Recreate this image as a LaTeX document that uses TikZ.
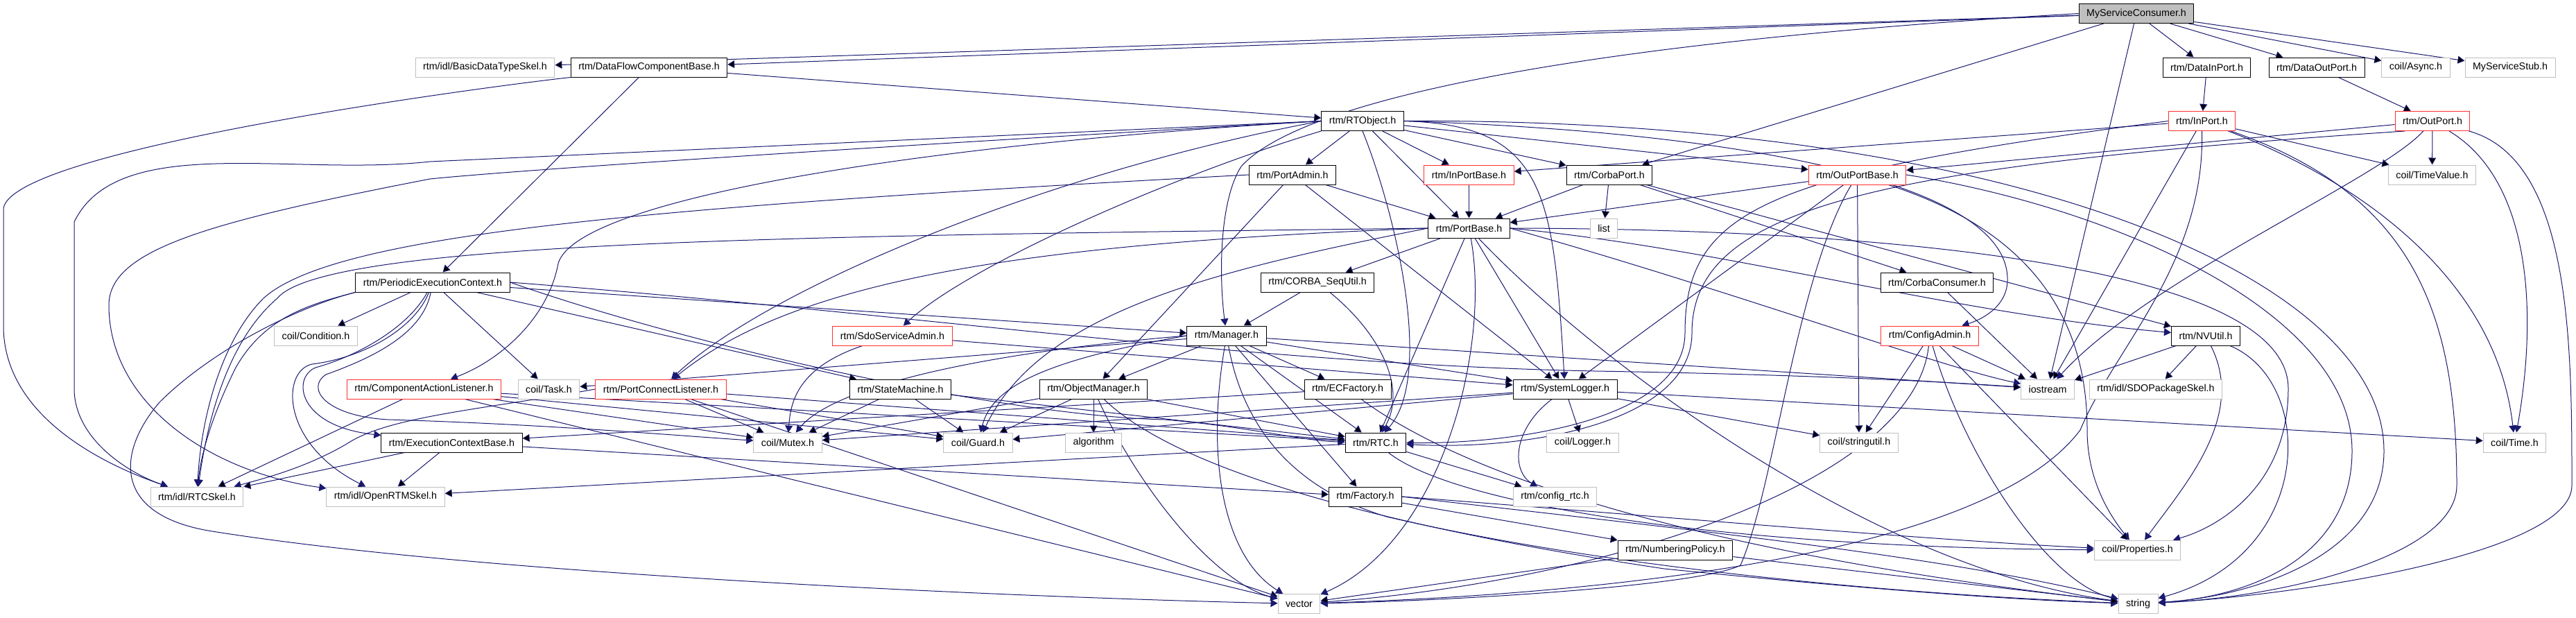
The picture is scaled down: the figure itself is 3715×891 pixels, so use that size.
\documentclass[tikz,border=0pt]{standalone}
\usepackage{fontspec}
\setmainfont{Liberation Sans}
\usetikzlibrary{arrows.meta, positioning}

\definecolor{depblue}{HTML}{191970}
\definecolor{extgray}{HTML}{BFBFBF}
\definecolor{truncred}{HTML}{FF3030}
\definecolor{rootgray}{HTML}{BFBFBF}
\newcommand{\hdrfont}{\fontsize{14.3}{17}\selectfont}

\pgfdeclarelayer{edges}
\pgfsetlayers{edges,main}

\tikzset{
  hdr/.style={draw=black, fill=white, font=\hdrfont, inner xsep=11pt, inner ysep=0pt,
    minimum height=28pt, line width=1pt},
  ext/.style={hdr, draw=extgray},
  trunc/.style={hdr, draw=truncred},
  root/.style={hdr, fill=rootgray},
  dep/.style={->, draw=depblue, line width=1pt}
}

\begin{document}
\begin{tikzpicture}[x=1pt, y=-1pt, >={Triangle[length=10pt,width=11pt]}]
\useasboundingbox (0,0) rectangle (3715,891);

% row 0
\node[root]  (consumer)    at (3081,19.5)   {MyServiceConsumer.h};
% row 1
\node[ext]   (basictype)   at (699.5,97)    {rtm/idl/BasicDataTypeSkel.h};
\node[hdr]   (dfcb)        at (936,97)      {rtm/DataFlowComponentBase.h};
\node[hdr]   (datain)      at (3182.5,97)   {rtm/DataInPort.h};
\node[hdr]   (dataout)     at (3341,97)     {rtm/DataOutPort.h};
\node[ext]   (async)       at (3484,97)     {coil/Async.h};
\node[ext]   (stub)        at (3620,97)     {MyServiceStub.h};
% row 2
\node[hdr]   (rtobject)    at (1965,174.5)  {rtm/RTObject.h};
\node[trunc] (inport)      at (3175.5,174.5){rtm/InPort.h};
\node[trunc] (outport)     at (3508,174.5)  {rtm/OutPort.h};
% row 3
\node[hdr]   (portadmin)   at (1864,252)    {rtm/PortAdmin.h};
\node[trunc] (inportbase)  at (2118.5,252)  {rtm/InPortBase.h};
\node[hdr]   (corbaport)   at (2321,252)    {rtm/CorbaPort.h};
\node[trunc] (outportbase) at (2678.5,252)  {rtm/OutPortBase.h};
\node[ext]   (timevalue)   at (3507.5,252)  {coil/TimeValue.h};
% row 4
\node[hdr]   (portbase)    at (2118.5,329)  {rtm/PortBase.h};
\node[ext]   (list)        at (2313,329)    {list};
% row 5
\node[hdr]   (periodic)    at (624,407)     {rtm/PeriodicExecutionContext.h};
\node[hdr]   (sequtil)     at (1900,407)    {rtm/CORBA\_SeqUtil.h};
\node[hdr]   (corbacons)   at (2793.5,407)  {rtm/CorbaConsumer.h};
% row 6
\node[ext]   (condition)   at (455.5,484)   {coil/Condition.h};
\node[trunc] (sdoadmin)    at (1287,484)    {rtm/SdoServiceAdmin.h};
\node[hdr]   (manager)     at (1769,484)    {rtm/Manager.h};
\node[trunc] (configadmin) at (2783,484)    {rtm/ConfigAdmin.h};
\node[hdr]   (nvutil)      at (3181,484)    {rtm/NVUtil.h};
% row 7
\node[trunc] (actionlst)   at (611.5,561)   {rtm/ComponentActionListener.h};
\node[ext]   (task)        at (791.5,561)   {coil/Task.h};
\node[trunc] (connectlst)  at (953,561)     {rtm/PortConnectListener.h};
\node[hdr]   (statemach)   at (1298.5,561)  {rtm/StateMachine.h};
\node[hdr]   (objmgr)      at (1577,561)    {rtm/ObjectManager.h};
\node[hdr]   (ecfactory)   at (1943.5,561)  {rtm/ECFactory.h};
\node[hdr]   (syslogger)   at (2257,561)    {rtm/SystemLogger.h};
\node[ext]   (iostream)    at (2953,561)    {iostream};
\node[ext]   (sdopkg)      at (3109,561)    {rtm/idl/SDOPackageSkel.h};
% row 8
\node[hdr]   (ecbase)      at (651.5,638)   {rtm/ExecutionContextBase.h};
\node[ext]   (mutex)       at (1136,638)    {coil/Mutex.h};
\node[ext]   (guard)       at (1410.5,638)  {coil/Guard.h};
\node[ext]   (algorithm)   at (1577,638)    {algorithm};
\node[hdr]   (rtc)         at (1984,638)    {rtm/RTC.h};
\node[ext]   (logger)      at (2282.5,638)  {coil/Logger.h};
\node[ext]   (stringutil)  at (2681,638)    {coil/stringutil.h};
\node[ext]   (time)        at (3626.5,638)  {coil/Time.h};
% row 9
\node[ext]   (rtcskel)     at (284,716)     {rtm/idl/RTCSkel.h};
\node[ext]   (openrtm)     at (556,716)     {rtm/idl/OpenRTMSkel.h};
\node[hdr]   (factory)     at (1969,716)    {rtm/Factory.h};
\node[ext]   (configrtc)   at (2242.5,716)  {rtm/config\_rtc.h};
% row 10
\node[hdr]   (numbering)   at (2416,793)    {rtm/NumberingPolicy.h};
\node[ext]   (properties)  at (3082.5,793)  {coil/Properties.h};
% row 11
\node[ext]   (vector)      at (1873.5,870.5){vector};
\node[ext]   (string)      at (3083.5,870.5){string};

\begin{pgfonlayer}{edges}
% MyServiceConsumer.h
\path[dep] (consumer) edge (basictype) edge (dfcb) edge (datain) edge (dataout)
  edge (async) edge (stub) edge (corbaport) edge (iostream);
\draw[dep] (consumer.west) .. controls (2300,60) and (1880,140) .. (1790,240)
  .. controls (1758,290) and (1758,400) .. (manager);

% DataFlowComponentBase.h
\path[dep] (dfcb) edge (rtobject) edge (periodic);
\draw[dep] (dfcb.south west) .. controls (700,125) and (20,215) .. (5,300) -- (5,470)
  .. controls (5,600) and (150,670) .. (rtcskel);
\path[dep] (datain) edge (inport) (dataout) edge (outport);

% RTObject.h
\path[dep] (rtobject) edge (portadmin) edge (inportbase) edge (portbase)
  edge (corbaport) edge (outportbase);
\draw[dep] (rtobject.south) .. controls (2010,300) and (2070,540) .. (rtc);
\draw[dep] (rtobject.west) -- (620,233) .. controls (420,255) and (170,190) .. (107,320)
  -- (107,560) .. controls (107,630) and (180,680) .. (rtcskel);
\draw[dep] (rtobject.west) .. controls (1200,215) and (750,245) .. (620,258)
  .. controls (300,320) and (157,360) .. (157,440) .. controls (157,580) and (300,680) .. (openrtm);
\draw[dep] (rtobject.west) .. controls (1300,210) and (830,290) .. (805,380)
  .. controls (790,460) and (720,520) .. (actionlst);
\draw[dep] (rtobject.south west) .. controls (1700,250) and (1400,380) .. (sdoadmin);
\draw[dep] (rtobject.west) .. controls (1500,250) and (1100,420) .. (connectlst);
\draw[dep] (rtobject.east) .. controls (2500,190) and (2890,260) .. (2895,400)
  .. controls (2897,440) and (2860,460) .. (configadmin);
\draw[dep] (rtobject.east) .. controls (2230,180) and (2240,280) .. (syslogger);
\draw[dep] (rtobject.east) .. controls (2900,170) and (3438,400) .. (3438,650)
  .. controls (3438,800) and (3250,860) .. (string);

% InPort.h
\path[dep] (inport) edge (inportbase) edge (iostream) edge (timevalue);
\draw[dep] (inport.west) .. controls (2550,250) and (2430,300) .. (2430,480)
  .. controls (2430,600) and (2200,640) .. (rtc);
\draw[dep] (inport.south) .. controls (3180,380) and (3050,500) .. (3000,620)
  .. controls (2850,820) and (2200,860) .. (vector);
\draw[dep] (inport) .. controls (3400,260) and (3600,400) .. (time);
\draw[dep] (inport) .. controls (3480,280) and (3543,450) .. (3543,700)
  .. controls (3543,800) and (3300,860) .. (string);

% OutPort.h
\path[dep] (outport) edge (outportbase) edge (timevalue);
\draw[dep] (outport.200) .. controls (2700,240) and (2440,300) .. (2440,480)
  .. controls (2440,610) and (2200,650) .. (rtc);
\draw[dep] (outport) .. controls (3430,260) and (3100,400) .. (iostream);
\draw[dep] (outport) .. controls (3650,260) and (3660,450) .. (time);
\draw[dep] (outport) .. controls (3709,230) and (3709,500) .. (3709,700)
  .. controls (3709,800) and (3300,860) .. (string);

% PortAdmin.h, InPortBase.h, CorbaPort.h
\path[dep] (portadmin) edge (portbase) edge (objmgr) edge (syslogger);
\draw[dep] (portadmin.west) .. controls (900,300) and (480,340) .. (380,430)
  .. controls (320,490) and (290,600) .. (rtcskel);
\path[dep] (inportbase) edge (portbase);
\path[dep] (corbaport) edge (portbase) edge (list) edge (corbacons) edge (nvutil);

% OutPortBase.h
\path[dep] (outportbase) edge (portbase) edge (syslogger) edge (stringutil);
\draw[dep] (outportbase) .. controls (2590,400) and (2560,700) .. (2510,815)
  .. controls (2450,845) and (2100,866) .. (vector);
\draw[dep] (outportbase) .. controls (2920,330) and (3010,450) .. (3010,620)
  .. controls (3010,690) and (3040,740) .. (properties);
\draw[dep] (outportbase.east) .. controls (3050,300) and (3392,450) .. (3392,650)
  .. controls (3392,800) and (3250,860) .. (string);

% PortBase.h
\path[dep] (portbase) edge (sequtil) edge (rtc) edge (syslogger);
\draw[dep] (portbase.west) .. controls (1200,340) and (470,345) .. (400,430)
  .. controls (330,490) and (300,600) .. (rtcskel);
\draw[dep] (portbase.west) .. controls (1500,350) and (1150,400) .. (connectlst);
\draw[dep] (portbase.west) .. controls (1750,390) and (1500,450) .. (guard);
\draw[dep] (portbase) .. controls (2150,500) and (2080,780) .. (vector);
\draw[dep] (portbase.east) .. controls (2500,360) and (2800,450) .. (nvutil);
\draw[dep] (portbase.east) .. controls (2500,420) and (2800,530) .. (iostream);
\draw[dep] (portbase.east) .. controls (2700,330) and (3300,380) .. (3300,560)
  .. controls (3300,700) and (3200,760) .. (properties);
\draw[dep] (portbase) .. controls (2300,520) and (2700,820) .. (string);

% PeriodicExecutionContext.h
\path[dep] (periodic) edge (condition) edge (task) edge (statemach) edge (manager);
\draw[dep] (periodic.south west) .. controls (440,440) and (380,460) .. (340,530)
  .. controls (310,590) and (290,650) .. (rtcskel);
\draw[dep] (periodic) .. controls (600,470) and (530,515) .. (450,525)
  .. controls (405,535) and (405,640) .. (openrtm);
\draw[dep] (periodic) .. controls (590,470) and (520,512) .. (455,530)
  .. controls (420,545) and (430,615) .. (ecbase);
\draw[dep] (periodic) .. controls (610,480) and (540,515) .. (470,540)
  .. controls (440,560) and (470,600) .. (560,605) .. controls (800,612) and (1000,630) .. (mutex);
\draw[dep] (periodic.south west) .. controls (420,445) and (300,510) .. (230,580)
  .. controls (170,650) and (160,740) .. (300,765) .. controls (700,830) and (1500,862) .. (vector);
\draw[dep] (periodic.east) .. controls (1300,450) and (1800,525) .. (2300,535)
  .. controls (2600,540) and (2800,550) .. (iostream);
\draw[dep] (periodic.east) .. controls (1000,500) and (1450,600) .. (1680,605)
  .. controls (1800,615) and (1880,636) .. (rtc);

% CORBA_SeqUtil.h, CorbaConsumer.h, SdoServiceAdmin.h
\path[dep] (sequtil) edge (manager);
\draw[dep] (sequtil) .. controls (1990,480) and (2030,560) .. (rtc);
\path[dep] (corbacons) edge (iostream);
\path[dep] (sdoadmin) edge (syslogger);
\draw[dep] (sdoadmin) .. controls (1150,530) and (1140,580) .. (mutex);

% Manager.h
\path[dep] (manager) edge (task) edge (objmgr) edge (ecfactory) edge (syslogger)
  edge (rtc) edge (factory) edge (iostream);
\draw[dep] (manager.west) .. controls (1400,510) and (1200,560) .. (mutex);
\draw[dep] (manager.west) .. controls (1500,520) and (1430,560) .. (guard);
\draw[dep] (manager) .. controls (1740,650) and (1760,800) .. (vector);
\draw[dep] (manager) .. controls (1790,600) and (1850,700) .. (2000,745)
  .. controls (2300,815) and (2700,855) .. (string);

% ConfigAdmin.h, NVUtil.h
\path[dep] (configadmin) edge (stringutil) edge (iostream) edge (properties);
\draw[dep] (configadmin) .. controls (2760,700) and (2300,840) .. (vector);
\draw[dep] (configadmin) .. controls (2830,650) and (2950,840) .. (string);
\path[dep] (nvutil) edge (iostream) edge (sdopkg);
\draw[dep] (nvutil) .. controls (3240,600) and (3150,700) .. (properties);
\draw[dep] (nvutil) .. controls (3340,550) and (3340,800) .. (string);

% listeners, StateMachine.h, ObjectManager.h
\path[dep] (actionlst) edge (rtcskel) edge (vector) edge (mutex) edge (guard) edge (rtc);
\path[dep] (connectlst) edge (vector) edge (mutex) edge (guard) edge (rtc);
\draw[dep] (connectlst.west) .. controls (700,590) and (560,600) .. (500,640)
  .. controls (440,675) and (380,690) .. (rtcskel);
\path[dep] (statemach) edge (mutex) edge (guard) edge (rtc);
\path[dep] (objmgr) edge (mutex) edge (guard) edge (algorithm) edge (rtc);
\draw[dep] (objmgr) .. controls (1640,700) and (1750,840) .. (vector);
\draw[dep] (objmgr) .. controls (1700,680) and (2000,760) .. (2400,820)
  .. controls (2700,850) and (2900,865) .. (string);

% ECFactory.h, SystemLogger.h
\path[dep] (ecfactory) edge (ecbase);
\draw[dep] (ecfactory) .. controls (2050,640) and (2300,780) .. (string);
\path[dep] (syslogger) edge (logger) edge (stringutil) edge (time) edge (mutex) edge (guard);
\draw[dep] (syslogger) .. controls (2180,620) and (2180,680) .. (configrtc);

% ExecutionContextBase.h, RTC.h, Factory.h, NumberingPolicy.h
\path[dep] (ecbase) edge (rtcskel) edge (openrtm) edge (factory);
\path[dep] (rtc) edge (configrtc) edge (openrtm);
\draw[dep] (rtc) .. controls (2100,730) and (2500,790) .. (properties);
\path[dep] (factory) edge (numbering);
\draw[dep] (factory.east) .. controls (2400,745) and (2800,780) .. (properties);
\draw[dep] (factory.east) .. controls (2400,760) and (2800,800) .. (string);
\path[dep] (numbering) edge (vector) edge (string);
\end{pgfonlayer}
\end{tikzpicture}
\end{document}
